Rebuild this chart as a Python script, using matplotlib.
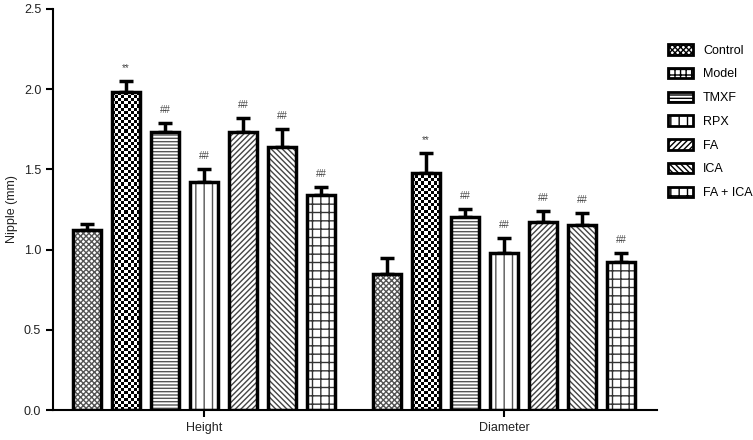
import numpy as np
import matplotlib
matplotlib.use('Agg')
import matplotlib.pyplot as plt
from matplotlib.patches import Patch

plt.rcParams['font.family'] = ['Liberation Sans', 'DejaVu Sans']
plt.rcParams['hatch.linewidth'] = 1.0

# dados
grupos = ['Height', 'Diameter']
tratamentos = ['Control', 'Model', 'TMXF', 'RPX', 'FA', 'ICA', 'FA + ICA']
height_vals = [1.12, 1.98, 1.73, 1.42, 1.73, 1.64, 1.34]
height_err = [0.04, 0.07, 0.06, 0.08, 0.09, 0.11, 0.05]
diameter_vals = [0.85, 1.48, 1.20, 0.98, 1.17, 1.15, 0.92]
diameter_err = [0.10, 0.12, 0.05, 0.09, 0.07, 0.08, 0.06]
height_sig = ['', '**', '##', '##', '##', '##', '##']
diameter_sig = ['', '**', '##', '##', '##', '##', '##']

hatches = ['xxxxxx', 'xxx', '-----', '||', '//////', '\\\\\\\\\\\\', '++']
hatch_cor = ['#555555', '#000000', '#555555', '#555555', '#444444', '#444444', '#333333']

valores = np.array([height_vals, diameter_vals])
erros = np.array([height_err, diameter_err])
sigs = [height_sig, diameter_sig]

fig = plt.figure(figsize=(7.53, 4.4), dpi=100)
ax = fig.add_axes([0.0704, 0.068, 0.802, 0.912])

x = np.arange(len(grupos))
passo = 0.13
largura = 0.093
for i, t in enumerate(tratamentos):
    pos = x + (i - 3) * passo
    barras = ax.bar(pos, valores[:, i], largura, facecolor='white', edgecolor=hatch_cor[i],
                    hatch=hatches[i] if i != 1 else None, linewidth=0, label=t, zorder=2)
    if i == 1:
        # xadrez do Model
        for b in barras:
            nx = 9
            ny = int(round(b.get_height() * 160 / 3.1))
            xadrez = (np.indices((ny, nx)).sum(axis=0) % 2)
            im = ax.imshow(xadrez, cmap='gray', extent=[b.get_x(), b.get_x() + b.get_width(),
                           0, b.get_height()], aspect='auto', interpolation='nearest',
                           zorder=2.5, vmin=0, vmax=1)
            im.set_clip_path(b)
    ax.bar(pos, valores[:, i], largura, facecolor='none', edgecolor='black',
           linewidth=2.5, zorder=3)
    ax.errorbar(pos, valores[:, i], yerr=[np.zeros(2), erros[:, i]], fmt='none',
                ecolor='black', elinewidth=2.5, capsize=5, capthick=2.5, zorder=1)
    for g in range(len(grupos)):
        s = sigs[g][i]
        if s:
            ax.text(pos[g], valores[g, i] + erros[g, i] + 0.05, s, ha='center',
                    va='bottom', fontsize=7, color='#444444')

ax.set_xlim(-0.503, 1.51)
ax.set_ylim(0, 2.5)
ax.set_xticks(x)
ax.set_xticklabels(grupos, fontsize=9, color='#222222')
ax.set_yticks(np.arange(0, 2.51, 0.5))
ax.set_yticklabels(['%.1f' % v for v in np.arange(0, 2.51, 0.5)], fontsize=9, color='#222222')
ax.set_ylabel('Nipple (mm)', fontsize=9, color='#222222')
ax.spines['top'].set_visible(False)
ax.spines['right'].set_visible(False)
ax.spines['left'].set_linewidth(1.5)
ax.spines['bottom'].set_linewidth(1.5)
ax.tick_params(width=1.5, length=5)

handles = []
for i, t in enumerate(tratamentos):
    handles.append(Patch(facecolor='white', edgecolor='black',
                         hatch=hatches[i] if i != 1 else '+++', linewidth=2, label=t))
ax.legend(handles=handles, loc='upper left', bbox_to_anchor=(1.0, 0.94), frameon=False,
          fontsize=9, handlelength=2.0, handleheight=0.9, labelspacing=0.9)

fig.savefig('out.png', dpi=100)
